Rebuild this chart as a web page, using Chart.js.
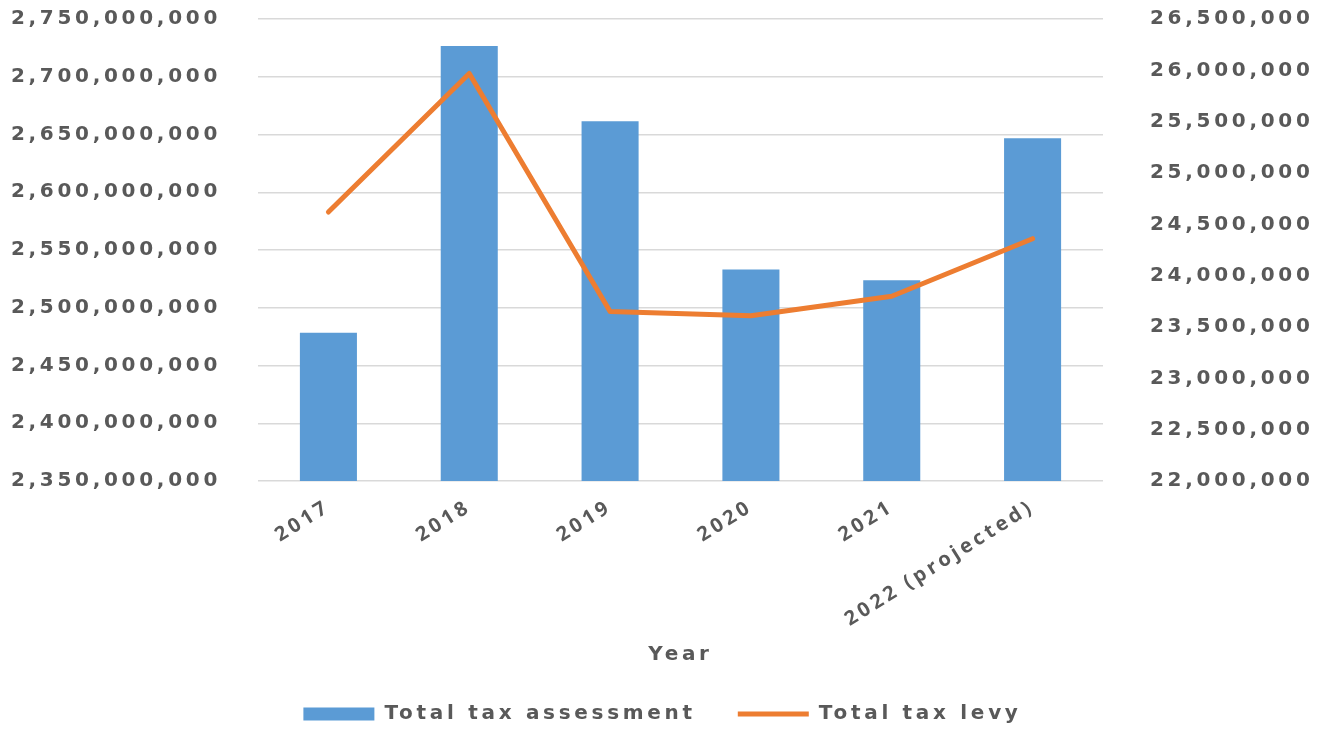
<!DOCTYPE html>
<html>
<head>
<meta charset="utf-8">
<script src="https://cdn.jsdelivr.net/npm/chart.js@4.4.1/dist/chart.umd.min.js"></script>
<style>
  html, body { margin: 0; padding: 0; background: #fff; }
  canvas { display: block; }
</style>
</head>
<body>
<canvas id="chart" width="1325" height="731"></canvas>
<script>
const years = ["2017", "2018", "2019", "2020", "2021", "2022 (projected)"];
const assessment = [2478300000, 2726600000, 2661500000, 2533200000, 2523900000, 2646800000];
const levy = [24620000, 25970000, 23650000, 23610000, 23800000, 24360000];

const textColor = "#595959";
const fmt = (v) => Number(v).toLocaleString("en-US");

// the reference text is spread wide, so add letter spacing to the canvas text
const spacing = {
  id: "spacing",
  beforeUpdate(chart) { chart.ctx.letterSpacing = "3.7px"; },
  beforeDraw(chart) { chart.ctx.letterSpacing = "3.7px"; }
};

new Chart(document.getElementById("chart"), {
  data: {
    labels: years,
    datasets: [
      {
        type: "bar",
        label: "Total tax assessment",
        data: assessment,
        backgroundColor: "#5B9BD5",
        borderWidth: 0,
        barPercentage: 0.405,
        categoryPercentage: 1,
        pointStyle: "rect",
        yAxisID: "y",
        order: 1
      },
      {
        type: "line",
        label: "Total tax levy",
        data: levy,
        borderColor: "#ED7D31",
        backgroundColor: "#ED7D31",
        borderWidth: 5,
        borderCapStyle: "round",
        borderJoinStyle: "round",
        pointRadius: 0,
        pointStyle: "line",
        tension: 0,
        yAxisID: "y1",
        order: 0
      }
    ]
  },
  options: {
    responsive: false,
    devicePixelRatio: 1,
    animation: false,
    layout: { padding: { top: 19, left: 0, right: 0, bottom: 0 } },
    scales: {
      x: {
        grid: { display: false },
        border: { display: false },
        ticks: {
          color: textColor,
          font: { family: "Open Sans", weight: "bold", size: 20 },
          minRotation: 32,
          maxRotation: 32,
          padding: 6
        },
        title: {
          display: true,
          text: "Year",
          color: textColor,
          font: { family: "DejaVu Sans", weight: "bold", size: 20 },
          padding: { top: 0, bottom: -5 }
        },
        afterFit(scale) { scale.height = 181; }
      },
      y: {
        position: "left",
        min: 2350000000,
        max: 2750000000,
        grid: { color: "#D9D9D9", lineWidth: 1.5, drawTicks: false },
        border: { display: false },
        ticks: {
          stepSize: 50000000,
          color: textColor,
          font: { family: "DejaVu Sans", weight: "bold", size: 20 },
          padding: 37,
          callback: fmt
        },
        afterFit(scale) {
          scale.width = 258;
          scale.paddingTop = 0;
          scale.paddingBottom = 0;
        }
      },
      y1: {
        position: "right",
        min: 22000000,
        max: 26500000,
        grid: { display: false, drawTicks: false },
        border: { display: false },
        ticks: {
          stepSize: 500000,
          color: textColor,
          font: { family: "DejaVu Sans", weight: "bold", size: 20 },
          padding: 47,
          callback: fmt
        },
        afterFit(scale) {
          scale.width = 222;
          scale.paddingTop = 0;
          scale.paddingBottom = 0;
        }
      }
    },
    plugins: {
      legend: {
        position: "bottom",
        maxHeight: 69,
        labels: {
          color: textColor,
          font: { family: "DejaVu Sans", weight: "bold", size: 20 },
          usePointStyle: true,
          pointStyleWidth: 71,
          boxHeight: 13,
          padding: 42,
          sort: (a, b) => a.datasetIndex - b.datasetIndex
        }
      },
      tooltip: { enabled: false }
    }
  },
  plugins: [spacing]
});
</script>
</body>
</html>
